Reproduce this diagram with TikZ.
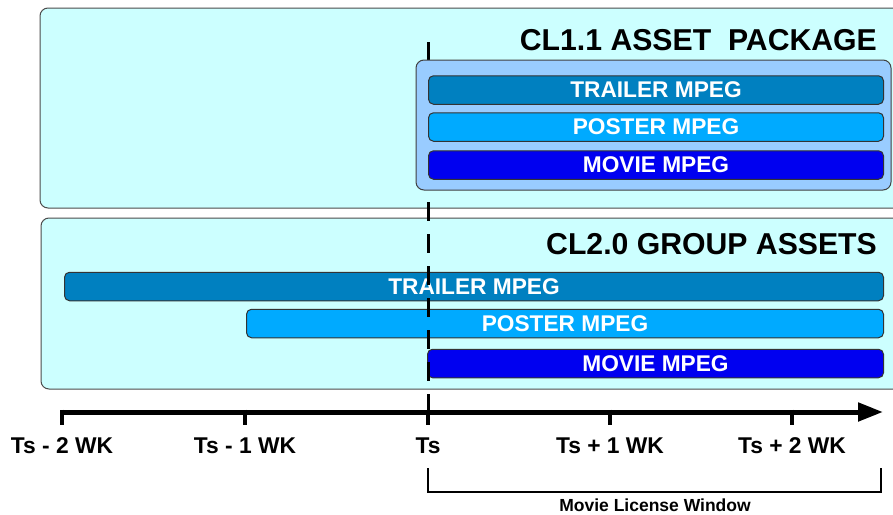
\documentclass[tikz,border=0pt]{standalone}
\usepackage{fontspec}
\setmainfont{Liberation Sans}
\usepackage{tikz}
\usetikzlibrary{positioning,
				arrows.meta,
				calc}

\definecolor{panelfill}{HTML}{CCFFFF}
\definecolor{pkgfill}{HTML}{99CCFF}
\definecolor{trailerblue}{HTML}{0080C0}
\definecolor{posterblue}{HTML}{00AAFF}
\definecolor{movieblue}{HTML}{0000F0}

\tikzset{
  panel/.style={draw=black!70, fill=panelfill, line width=1pt, rounded corners=8pt},
  bar/.style={draw=black!80, line width=1pt, rounded corners=5pt, anchor=west,
    inner sep=0pt, minimum height=28.5pt, text=white,
    font=\fontsize{22.7}{22.7}\selectfont\bfseries},
  title/.style={anchor=base east, inner sep=0pt, font=\fontsize{30.2}{30.2}\selectfont\bfseries},
  ticklabel/.style={anchor=base, inner sep=0pt, font=\fontsize{22.8}{22.8}\selectfont\bfseries},
}

\begin{document}
\begin{tikzpicture}[x=1pt,y=-1pt]
  \clip (0,0) rectangle (893,514);
  \fill[white] (0,0) rectangle (893,514);

  % the two group panels
  \draw[panel] (40,8) rectangle (910,208);
  \draw[panel] (41,218) rectangle (910,389);
  \node[title] (pkgtitle) at (877,50) {CL1.1 ASSET~~PACKAGE};
  \node[title] (grptitle) at (877,254) {CL2.0 GROUP ASSETS};

  % CL2.0 assets, each with its own window
  \node[bar, fill=trailerblue, minimum width=819pt] (grptrailer) at (64,286.5) {TRAILER MPEG};
  \node[bar, fill=posterblue, minimum width=637pt] (grpposter) at (246,323.5) {POSTER MPEG};
  \node[bar, fill=movieblue, minimum width=456pt] (grpmovie) at (427,363.5) {MOVIE MPEG};

  % time axis
  \coordinate (tm2) at (62,412);
  \coordinate (tm1) at (245,412);
  \coordinate (ts) at (428,412);
  \coordinate (tp1) at (610,412);
  \coordinate (tp2) at (792,412);
  \coordinate (tend) at (883,412);
  \draw[line width=5pt, -{Triangle[length=25pt,width=18pt]}] (tm2) -- (tend);
  \foreach \t/\lbl in {tm2/Ts - 2 WK, tm1/Ts - 1 WK, ts/Ts, tp1/Ts + 1 WK, tp2/Ts + 2 WK}{
    \draw[line width=4.5pt] ($(\t)+(0,-2.5)$) -- ($(\t)+(0,13)$);
    \node[ticklabel] (\t lbl) at ($(\t)+(0,41)$) {\lbl};
  }

  % start of the license window
  \coordinate (tstop) at (428,42);
  \draw[line width=3pt, dash pattern=on 19pt off 13pt] (tstop) -- (ts);

  % CL1.1 package: all assets share one window
  \draw[line width=1pt, draw=black!75, fill=pkgfill, rounded corners=8pt] (416,60) rectangle (891,190);
  \node[bar, fill=trailerblue, minimum width=455pt] (pkgtrailer) at (428,90) {TRAILER MPEG};
  \node[bar, fill=posterblue, minimum width=455pt] (pkgposter) at (428,127) {POSTER MPEG};
  \node[bar, fill=movieblue, minimum width=455pt] (pkgmovie) at (428,165) {MOVIE MPEG};

  % license window bracket
  \coordinate (winl) at (428,468);
  \coordinate (winr) at (881,468);
  \draw[line width=2pt] (winl) -- ++(0,24) -| (winr);
  \node[anchor=base, inner sep=0pt, font=\fontsize{17.5}{17.5}\selectfont\bfseries] (window) at (655,511) {Movie License Window};
\end{tikzpicture}
\end{document}
